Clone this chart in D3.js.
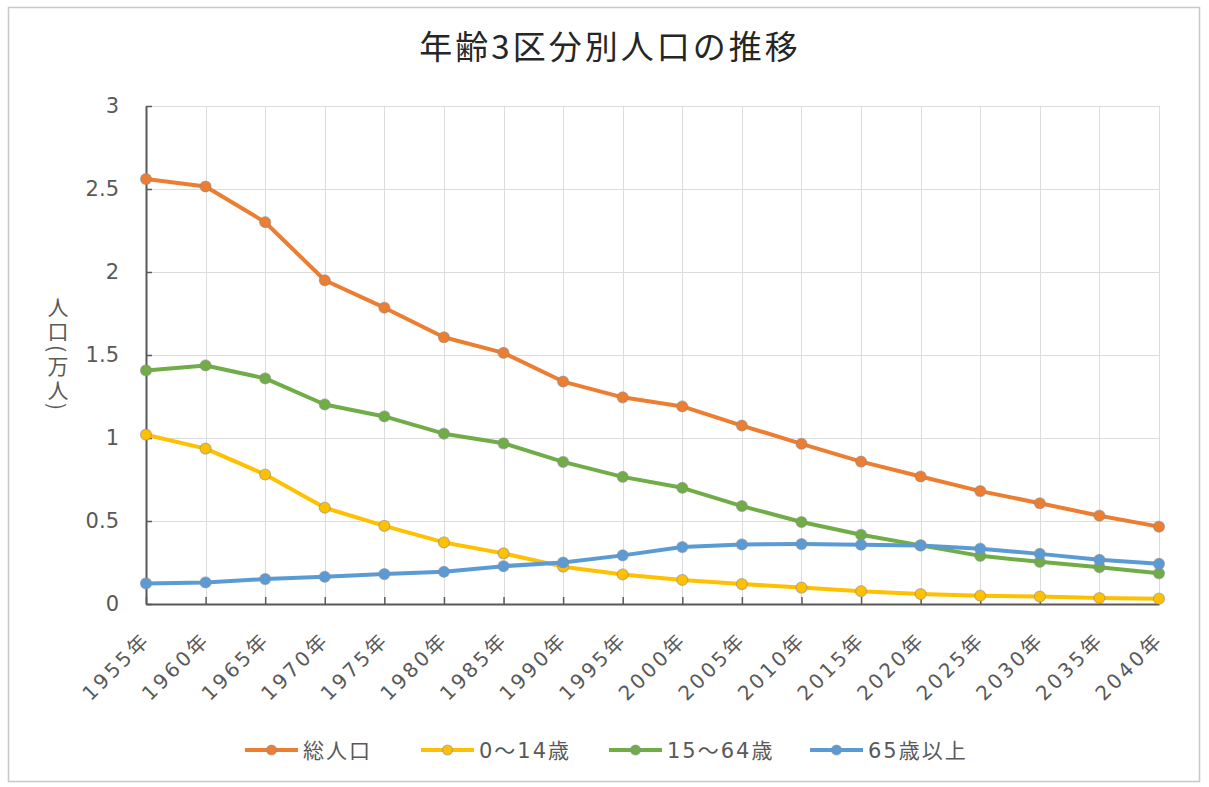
<!DOCTYPE html>
<html>
<head>
<meta charset="utf-8">
<script src="https://cdn.jsdelivr.net/npm/d3@7"></script>
<style>
  html, body { margin: 0; padding: 0; background: #fff; }
  svg { display: block; font-family: "Noto Sans CJK JP", "Noto Sans", sans-serif; }
</style>
</head>
<body>
<svg id="chart" width="1209" height="787"></svg>
<script>
// Census years (categories)
const years = ["1955年","1960年","1965年","1970年","1975年","1980年","1985年","1990年","1995年",
               "2000年","2005年","2010年","2015年","2020年","2025年","2030年","2035年","2040年"];

// Population by age group, in 10,000 persons
const total    = [2.56, 2.515, 2.30, 1.95, 1.785, 1.607, 1.513, 1.34, 1.245, 1.19, 1.075, 0.965, 0.858, 0.768, 0.68, 0.607, 0.532, 0.466];
const age0_14  = [1.02, 0.936, 0.78, 0.58, 0.471, 0.371, 0.305, 0.225, 0.178, 0.145, 0.12, 0.099, 0.077, 0.06, 0.05, 0.045, 0.036, 0.032];
const age15_64 = [1.407, 1.437, 1.359, 1.202, 1.13, 1.026, 0.968, 0.856, 0.766, 0.70, 0.59, 0.494, 0.417, 0.353, 0.29, 0.254, 0.222, 0.185];
const age65    = [0.124, 0.13, 0.15, 0.164, 0.18, 0.194, 0.228, 0.25, 0.293, 0.343, 0.359, 0.361, 0.357, 0.353, 0.333, 0.302, 0.266, 0.242];

const seriesNames = ["総人口", "0～14歳", "15～64歳", "65歳以上"];
const yTicks = [0, 0.5, 1, 1.5, 2, 2.5, 3];

const series = [
  { name: seriesNames[0], values: total,    color: "#ED7D31" },
  { name: seriesNames[1], values: age0_14,  color: "#FFC000" },
  { name: seriesNames[2], values: age15_64, color: "#70AD47" },
  { name: seriesNames[3], values: age65,    color: "#5B9BD5" }
];

const numFont = "'DejaVu Sans', 'Noto Sans CJK JP', sans-serif";
const textGray = "#595959";

const svg = d3.select("#chart");
const plot = { left: 146, right: 1159, top: 106, bottom: 604 };

// Outer frame
svg.append("rect")
  .attr("x", 8.5).attr("y", 7.5).attr("width", 1191).attr("height", 774)
  .attr("fill", "#fff").attr("stroke", "#c8c8c8").attr("stroke-width", 1.5);

// Title
svg.append("text")
  .attr("x", 610).attr("y", 59)
  .attr("text-anchor", "middle")
  .attr("font-size", 33)
  .attr("letter-spacing", 3)
  .attr("fill", "#262626")
  .text("年齢3区分別人口の推移");

const x = d3.scalePoint().domain(years).range([plot.left, plot.right]);
const y = d3.scaleLinear().domain([0, 3]).range([plot.bottom, plot.top]);

// Gridlines
const grid = svg.append("g").attr("stroke", "#dcdcdc").attr("stroke-width", 1);
grid.selectAll("line.h").data(yTicks.filter(d => d > 0)).join("line")
  .attr("x1", plot.left).attr("x2", plot.right)
  .attr("y1", d => Math.round(y(d)) + 0.5).attr("y2", d => Math.round(y(d)) + 0.5);
grid.selectAll("line.v").data(years.slice(1)).join("line")
  .attr("x1", d => Math.round(x(d)) + 0.5).attr("x2", d => Math.round(x(d)) + 0.5)
  .attr("y1", plot.top).attr("y2", plot.bottom);

// Y axis (tick marks point into the plot)
const yAxis = svg.append("g")
  .attr("transform", `translate(${plot.left},0)`)
  .call(d3.axisLeft(y).tickValues(yTicks).tickSizeInner(-6).tickSizeOuter(0)
        .tickPadding(27).tickFormat(d3.format("")));
yAxis.select(".domain").attr("stroke", textGray).attr("stroke-width", 2);
yAxis.selectAll(".tick line").attr("stroke", textGray).attr("stroke-width", 1.5);
yAxis.selectAll(".tick text")
  .attr("font-size", 21).attr("fill", textGray)
  .style("font-family", numFont);

// X axis (tick marks point into the plot, labels rotated)
const xAxis = svg.append("g")
  .attr("transform", `translate(0,${plot.bottom})`)
  .call(d3.axisBottom(x).tickSizeInner(-7).tickSizeOuter(0));
xAxis.select(".domain").attr("stroke", textGray).attr("stroke-width", 2);
xAxis.selectAll(".tick line").attr("stroke", textGray).attr("stroke-width", 1.5);
xAxis.selectAll(".tick text")
  .attr("font-size", 20).attr("fill", textGray)
  .attr("letter-spacing", 3)
  .attr("text-anchor", "end")
  .attr("dy", "0")
  .attr("x", 0).attr("y", 0)
  .attr("transform", "translate(5,37) rotate(-45)")
  .style("font-family", numFont);

// Y axis title (vertical)
svg.append("text")
  .attr("x", 58).attr("y", 297)
  .attr("font-size", 21)
  .attr("letter-spacing", 3)
  .attr("fill", textGray)
  .style("writing-mode", "vertical-rl")
  .style("text-orientation", "mixed")
  .text("人口(万人)");

// Series lines and markers
const line = d3.line()
  .x((d, i) => x(years[i]))
  .y(d => y(d));

const layer = svg.append("g");
series.forEach(s => {
  layer.append("path")
    .datum(s.values)
    .attr("fill", "none")
    .attr("stroke", s.color)
    .attr("stroke-width", 4)
    .attr("stroke-linejoin", "round")
    .attr("stroke-linecap", "round")
    .attr("d", line);
});
series.forEach(s => {
  layer.append("g").selectAll("circle").data(s.values).join("circle")
    .attr("cx", (d, i) => x(years[i]))
    .attr("cy", d => y(d))
    .attr("r", 5.5)
    .attr("fill", s.color)
    .attr("stroke", "#8c8c8c")
    .attr("stroke-opacity", 0.55)
    .attr("stroke-width", 1.2);
});

// Legend
const legendItems = [
  { s: series[0], x: 245 },
  { s: series[1], x: 421 },
  { s: series[2], x: 609 },
  { s: series[3], x: 810 }
];
const legend = svg.append("g");
legendItems.forEach(it => {
  const g = legend.append("g").attr("transform", `translate(${it.x},750)`);
  g.append("line").attr("x1", 0).attr("x2", 53).attr("y1", 0).attr("y2", 0)
    .attr("stroke", it.s.color).attr("stroke-width", 4);
  g.append("circle").attr("cx", 26.5).attr("cy", 0).attr("r", 5)
    .attr("fill", it.s.color).attr("stroke", "#8c8c8c").attr("stroke-opacity", 0.55).attr("stroke-width", 1.2);
  g.append("text").attr("x", 58).attr("y", 0).attr("dy", "0.36em")
    .attr("font-size", 21).attr("letter-spacing", 2).attr("fill", textGray)
    .style("font-family", numFont)
    .text(it.s.name);
});
</script>
</body>
</html>
